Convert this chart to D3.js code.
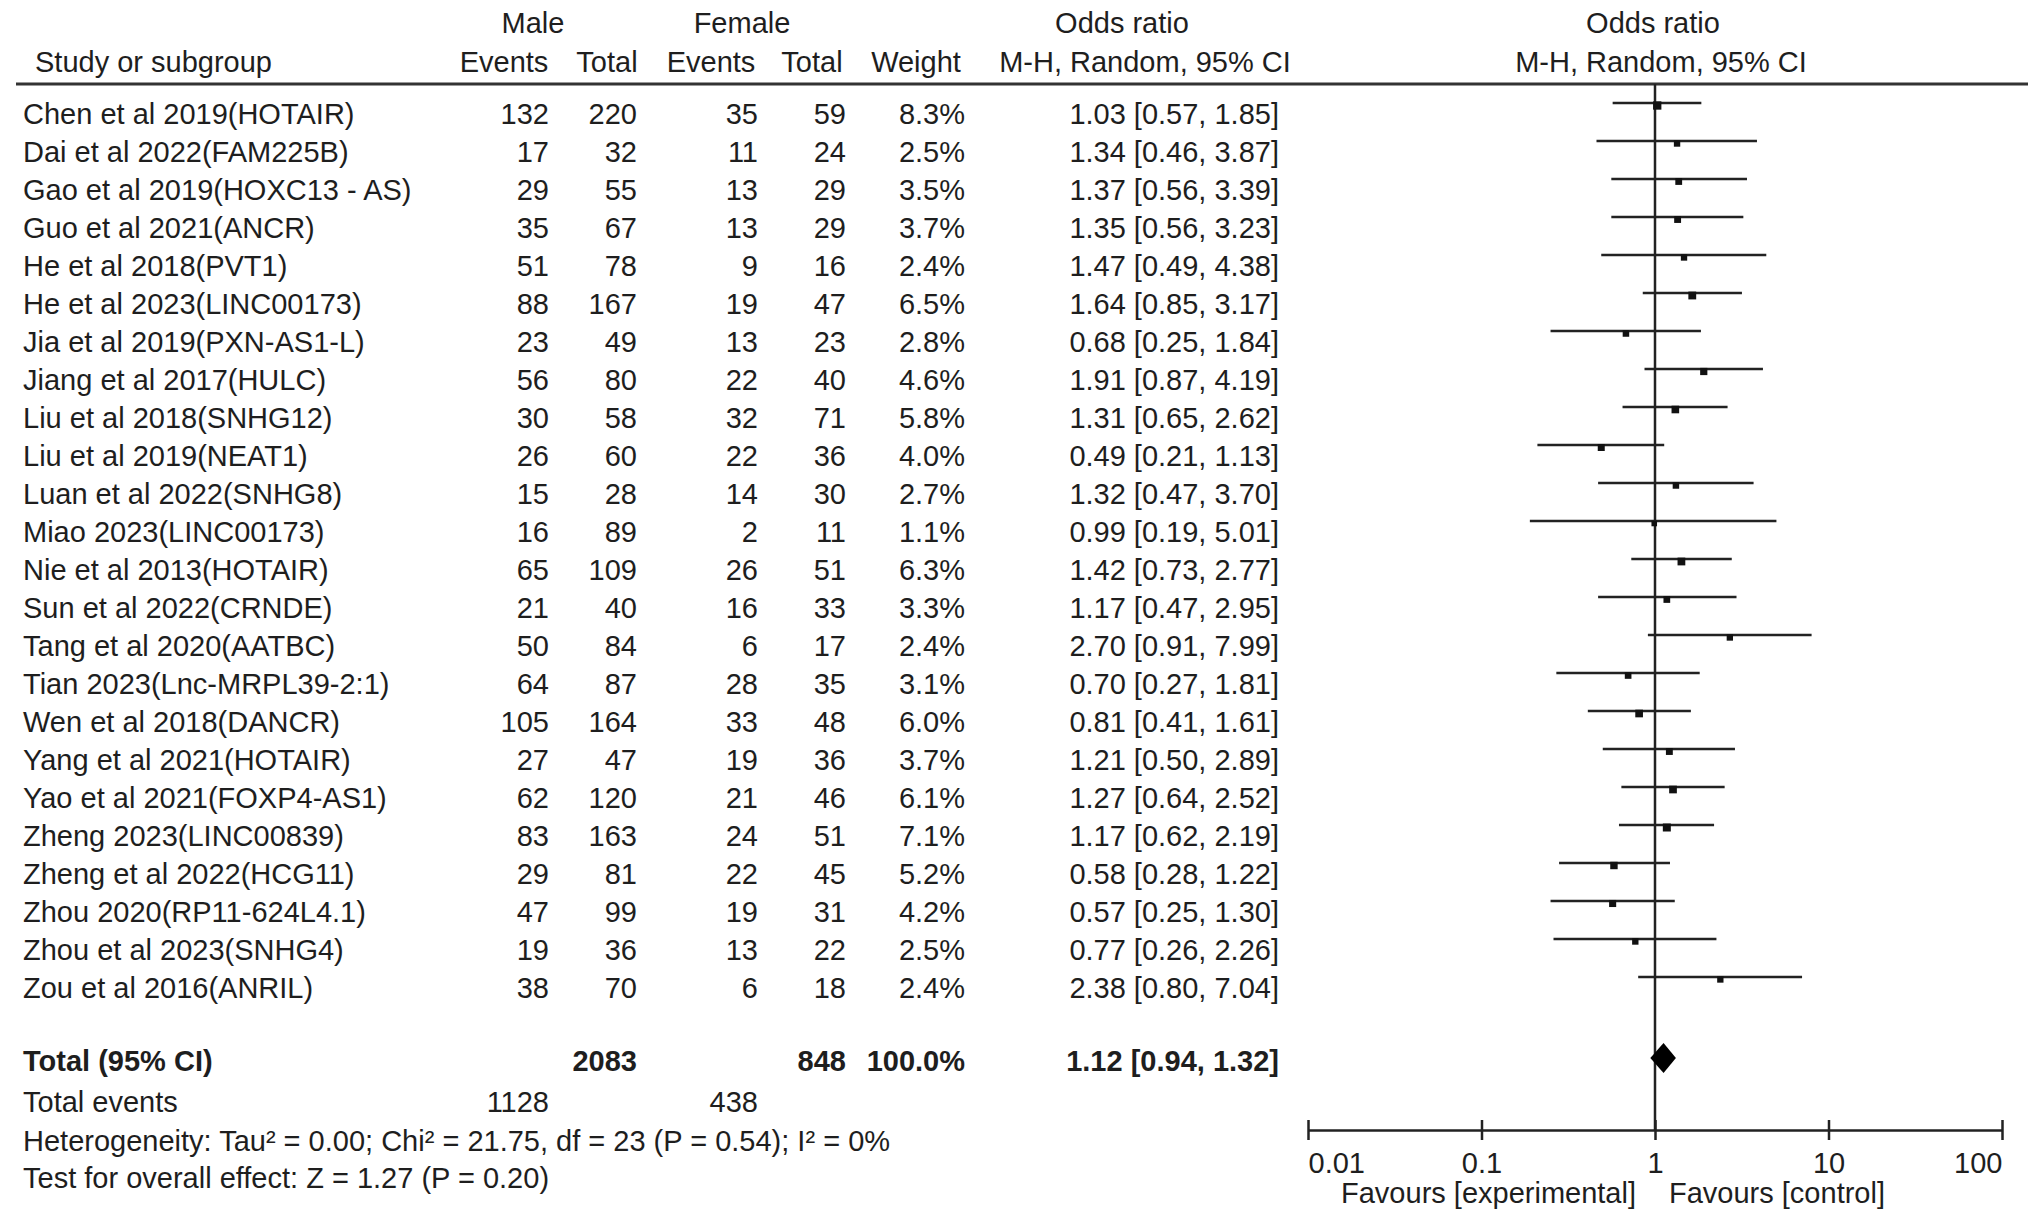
<!DOCTYPE html>
<html><head><meta charset="utf-8">
<script src="https://cdn.jsdelivr.net/npm/d3@7"></script>
<style>
body{margin:0;background:#fff;}
text{font-family:"Liberation Sans",Arial,sans-serif;fill:#1e1e1e;}
</style></head>
<body>
<svg id="c" width="2032" height="1223"></svg>
<script>
const studies = ["Chen et al 2019(HOTAIR)","Dai et al 2022(FAM225B)","Gao et al 2019(HOXC13 - AS)","Guo et al 2021(ANCR)","He et al 2018(PVT1)","He et al 2023(LINC00173)","Jia et al 2019(PXN-AS1-L)","Jiang et al 2017(HULC)","Liu et al 2018(SNHG12)","Liu et al 2019(NEAT1)","Luan et al 2022(SNHG8)","Miao 2023(LINC00173)","Nie et al 2013(HOTAIR)","Sun et al 2022(CRNDE)","Tang et al 2020(AATBC)","Tian 2023(Lnc-MRPL39-2:1)","Wen et al 2018(DANCR)","Yang et al 2021(HOTAIR)","Yao et al 2021(FOXP4-AS1)","Zheng 2023(LINC00839)","Zheng et al 2022(HCG11)","Zhou 2020(RP11-624L4.1)","Zhou et al 2023(SNHG4)","Zou et al 2016(ANRIL)"];
const maleEvents = [132,17,29,35,51,88,23,56,30,26,15,16,65,21,50,64,105,27,62,83,29,47,19,38];
const maleTotal = [220,32,55,67,78,167,49,80,58,60,28,89,109,40,84,87,164,47,120,163,81,99,36,70];
const femaleEvents = [35,11,13,13,9,19,13,22,32,22,14,2,26,16,6,28,33,19,21,24,22,19,13,6];
const femaleTotal = [59,24,29,29,16,47,23,40,71,36,30,11,51,33,17,35,48,36,46,51,45,31,22,18];
const weights = [8.3,2.5,3.5,3.7,2.4,6.5,2.8,4.6,5.8,4.0,2.7,1.1,6.3,3.3,2.4,3.1,6.0,3.7,6.1,7.1,5.2,4.2,2.5,2.4];
const orVal = [1.03,1.34,1.37,1.35,1.47,1.64,0.68,1.91,1.31,0.49,1.32,0.99,1.42,1.17,2.70,0.70,0.81,1.21,1.27,1.17,0.58,0.57,0.77,2.38];
const orLow = [0.57,0.46,0.56,0.56,0.49,0.85,0.25,0.87,0.65,0.21,0.47,0.19,0.73,0.47,0.91,0.27,0.41,0.50,0.64,0.62,0.28,0.25,0.26,0.80];
const orHigh = [1.85,3.87,3.39,3.23,4.38,3.17,1.84,4.19,2.62,1.13,3.70,5.01,2.77,2.95,7.99,1.81,1.61,2.89,2.52,2.19,1.22,1.30,2.26,7.04];
const totalRow = {label:"Total (95% CI)", maleTotal:2083, femaleTotal:848, weight:"100.0%", or:1.12, lo:0.94, hi:1.32};
const totalEvents = [1128, 438];
const hetText = "Heterogeneity: Tau\u00b2 = 0.00; Chi\u00b2 = 21.75, df = 23 (P = 0.54); I\u00b2 = 0%";
const testText = "Test for overall effect: Z = 1.27 (P = 0.20)";
const axisTicks = [0.01, 0.1, 1, 10, 100];
const axisTickLabels = ["0.01","0.1","1","10","100"];
const favourLabels = ["Favours [experimental]","Favours [control]"];

const svg = d3.select("#c");
svg.append("rect").attr("width",2032).attr("height",1223).attr("fill","#fff");
const FS = 29;
const fmt2 = d3.format(".2f");

const y = d3.scaleLinear().domain([0, studies.length-1]).range([114, 988]);
const x = d3.scaleLog().domain([0.01,100]).range([1308,2002]);

const cols = {name:23, mEv:549, mTot:637, fEv:758, fTot:846, w:965, or:1279};

function txt(xp, yp, s, anchor, bold){
  return svg.append("text").attr("x",xp).attr("y",yp).attr("dy","0.35em")
    .attr("text-anchor",anchor||"start").attr("font-size",FS)
    .attr("font-weight",bold?"bold":"normal").text(s);
}

// headers
txt(533,23,"Male","middle");
txt(742,23,"Female","middle");
txt(1122,23,"Odds ratio","middle");
txt(x(1)-2,23,"Odds ratio","middle");
txt(35,62,"Study or subgroup");
txt(504,62,"Events","middle");
txt(607,62,"Total","middle");
txt(711,62,"Events","middle");
txt(812,62,"Total","middle");
txt(916,62,"Weight","middle");
txt(1145,62,"M-H, Random, 95% CI","middle");
txt(x(1)+6,62,"M-H, Random, 95% CI","middle");

svg.append("line").attr("x1",16).attr("x2",2028).attr("y1",84).attr("y2",84)
  .attr("stroke","#333").attr("stroke-width",3);

// vertical line at OR = 1
svg.append("line").attr("x1",x(1)).attr("x2",x(1)).attr("y1",84).attr("y2",1130)
  .attr("stroke","#222").attr("stroke-width",2.5);

// rows
studies.forEach((s,i)=>{
  const yy = y(i);
  txt(cols.name, yy, s);
  txt(cols.mEv, yy, maleEvents[i], "end");
  txt(cols.mTot, yy, maleTotal[i], "end");
  txt(cols.fEv, yy, femaleEvents[i], "end");
  txt(cols.fTot, yy, femaleTotal[i], "end");
  txt(cols.w, yy, weights[i].toFixed(1)+"%", "end");
  txt(cols.or, yy, `${fmt2(orVal[i])} [${fmt2(orLow[i])}, ${fmt2(orHigh[i])}]`, "end");
  const ym = yy - 11;
  svg.append("line").attr("x1",x(orLow[i])).attr("x2",x(orHigh[i])).attr("y1",ym).attr("y2",ym)
    .attr("stroke","#222").attr("stroke-width",2.5);
  const sz = 4 + 1.5*Math.sqrt(weights[i]);
  svg.append("rect").attr("x",x(orVal[i])-sz/2).attr("y",ym+2.5-sz/2).attr("width",sz).attr("height",sz).attr("fill","#111");
});

// total row
const yt = 1061;
txt(cols.name, yt, totalRow.label, "start", true);
txt(cols.mTot, yt, totalRow.maleTotal, "end", true);
txt(cols.fTot, yt, totalRow.femaleTotal, "end", true);
txt(cols.w, yt, totalRow.weight, "end", true);
txt(cols.or, yt, `${fmt2(totalRow.or)} [${fmt2(totalRow.lo)}, ${fmt2(totalRow.hi)}]`, "end", true);
const yd = 1058;
svg.append("path").attr("d",`M${x(totalRow.lo)},${yd} L${x(totalRow.or)},${yd-15} L${x(totalRow.hi)},${yd} L${x(totalRow.or)},${yd+15} Z`).attr("fill","#000");

txt(cols.name, 1102, "Total events");
txt(cols.mEv, 1102, totalEvents[0], "end");
txt(cols.fEv, 1102, totalEvents[1], "end");
txt(cols.name, 1141, hetText);
txt(cols.name, 1178, testText);

// axis
const ax = svg.append("g").attr("transform","translate(0,1130)")
  .call(d3.axisBottom(x).tickValues(axisTicks).tickFormat((d,i)=>axisTickLabels[i]).tickSizeOuter(0).tickSizeInner(10).tickPadding(12));
ax.select(".domain").attr("stroke","#222").attr("stroke-width",2.5);
ax.selectAll(".tick line").attr("y1",-10).attr("y2",10).attr("stroke","#222").attr("stroke-width",2.5);
ax.selectAll(".tick text").attr("font-size",FS).attr("font-family","Liberation Sans, Arial, sans-serif").attr("fill","#1e1e1e")
  .attr("text-anchor",(d,i)=> i===0?"start":(i===axisTicks.length-1?"end":"middle"));
txt(x(1)-19, 1193, favourLabels[0], "end");
txt(x(1)+14, 1193, favourLabels[1], "start");
</script>
</body></html>
